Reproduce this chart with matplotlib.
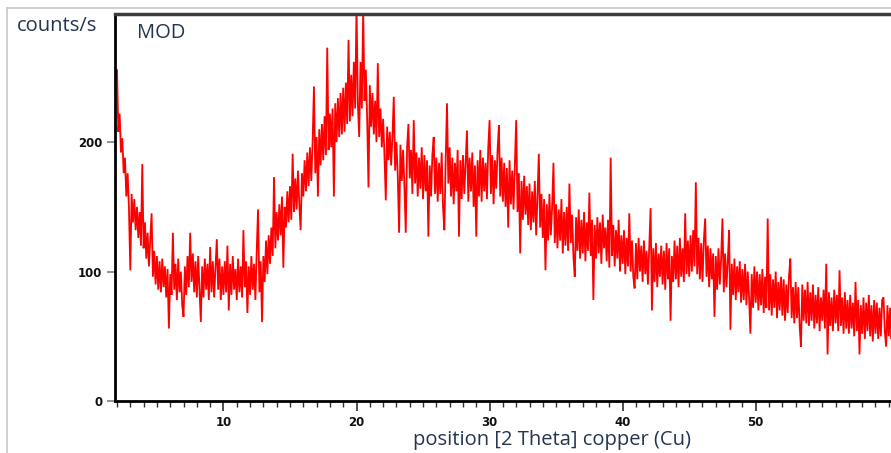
import numpy as np
import matplotlib
matplotlib.use("Agg")
import matplotlib.pyplot as plt
from matplotlib.lines import Line2D

# ---- data: counts/s at 0.1 deg steps, starting at 1.9 deg ----
start_2theta = 1.9
step_2theta = 0.1
c_02_05 = [250, 256, 208, 222, 192, 203, 176, 188, 158, 176, 148,
           101, 160, 138, 156, 132, 150, 126, 146, 120, 183,
           118, 138, 110, 130, 104, 124, 145, 96, 116, 90]
c_05_10 = [112, 86, 108, 84, 110, 88, 104, 80, 102, 56,
           98, 82, 130, 86, 106, 78, 110, 84, 100, 74,
           65, 104, 82, 112, 88, 130, 92, 114, 84, 108,
           80, 112, 86, 61, 104, 80, 110, 86, 106, 78,
           119, 84, 108, 80, 102, 125, 86, 110, 78, 104]
c_10_15 = [82, 108, 84, 120, 70, 106, 82, 112, 86, 102,
           78, 110, 84, 104, 80, 132, 88, 108, 68, 104,
           82, 112, 86, 106, 78, 116, 148, 84, 108, 61,
           112, 92, 124, 98, 128, 106, 134, 112, 173, 118,
           146, 124, 152, 128, 158, 103, 150, 134, 162, 138]
c_15_20 = [166, 140, 191, 146, 172, 148, 178, 152, 132, 176,
           158, 186, 162, 192, 166, 196, 170, 200, 243, 176,
           204, 158, 210, 182, 214, 186, 220, 190, 273, 194,
           222, 196, 226, 158, 230, 200, 234, 204, 238, 206,
           242, 208, 246, 214, 279, 216, 252, 220, 262, 226]
c_20_25 = [305, 230, 204, 262, 226, 302, 232, 256, 218, 165,
           244, 212, 238, 206, 232, 200, 261, 204, 226, 196,
           218, 190, 155, 212, 186, 208, 182, 204, 235, 178,
           200, 174, 130, 198, 170, 194, 166, 130, 196, 214,
           172, 194, 160, 217, 168, 192, 158, 188, 164, 196]
c_25_30 = [156, 190, 162, 186, 127, 182, 158, 190, 204, 160,
           188, 154, 184, 160, 192, 150, 132, 186, 230, 168,
           196, 158, 188, 152, 184, 162, 194, 127, 186, 156,
           190, 160, 184, 209, 154, 188, 162, 192, 150, 182,
           127, 186, 158, 194, 154, 188, 162, 184, 156, 196]
c_30_35 = [217, 160, 190, 152, 186, 164, 194, 213, 158, 188,
           154, 184, 150, 180, 134, 186, 152, 178, 148, 182,
           217, 146, 176, 114, 170, 140, 174, 144, 166, 136,
           168, 132, 162, 138, 170, 128, 158, 191, 134, 160,
           126, 156, 101, 152, 124, 160, 128, 150, 184, 122]
c_35_40 = [152, 118, 148, 124, 156, 114, 146, 120, 150, 116,
           168, 122, 144, 112, 96, 142, 116, 148, 110, 140,
           114, 146, 108, 138, 116, 161, 112, 140, 78, 136,
           110, 142, 114, 138, 106, 144, 118, 134, 108, 140,
           103, 188, 112, 136, 104, 132, 110, 140, 100, 128]
c_40_45 = [106, 132, 98, 126, 104, 145, 100, 124, 96, 87,
           122, 94, 126, 100, 120, 92, 124, 98, 116, 90,
           120, 149, 70, 118, 92, 122, 88, 114, 96, 120,
           90, 116, 86, 122, 94, 118, 62, 112, 92, 124,
           94, 120, 88, 126, 96, 118, 92, 145, 98, 124]
c_45_50 = [96, 128, 100, 132, 104, 169, 98, 126, 94, 122,
           92, 124, 141, 96, 120, 88, 118, 94, 114, 65,
           112, 86, 118, 90, 110, 141, 84, 114, 88, 108,
           132, 55, 106, 82, 110, 78, 104, 84, 108, 76,
           102, 78, 106, 74, 100, 80, 52, 98, 72, 104]
c_50_55 = [76, 100, 70, 98, 74, 102, 68, 96, 72, 141,
           70, 98, 66, 94, 72, 100, 64, 92, 70, 96,
           66, 94, 62, 90, 68, 96, 110, 64, 88, 60,
           92, 64, 88, 58, 42, 90, 62, 86, 60, 92,
           58, 84, 62, 90, 56, 82, 60, 88, 54, 80]
c_55_60 = [62, 86, 56, 106, 36, 84, 58, 80, 54, 86,
           60, 82, 54, 101, 58, 80, 52, 84, 56, 78,
           52, 82, 56, 76, 50, 92, 54, 78, 36, 74,
           52, 80, 48, 76, 54, 82, 50, 74, 46, 78,
           52, 76, 48, 72, 50, 78, 80, 54, 42, 74,
           50, 72, 48, 70, 52]

counts = np.array(c_02_05 + c_05_10 + c_10_15 + c_15_20 + c_20_25 + c_25_30 +
                  c_30_35 + c_35_40 + c_40_45 + c_45_50 + c_50_55 + c_55_60, float)
two_theta = start_2theta + step_2theta * np.arange(len(counts))

x_major = [10, 20, 30, 40, 50]
y_major = [0, 100, 200]

# ---- figure ----
W, H = 891, 453
fig = plt.figure(figsize=(W / 100, H / 100), dpi=100)
ax = fig.add_axes([115 / W, 1 - 401 / H, 1 - 115 / W + 0.002, (401 - 14) / H])

ax.plot(two_theta, counts, color="#ff0000", lw=1.3, solid_joinstyle="miter")
ax.set_xlim(1.85, 60.3)
ax.set_ylim(0, 299)

for s in ["left", "bottom"]:
    ax.spines[s].set_linewidth(2.0)
    ax.spines[s].set_color("black")
ax.spines["top"].set_linewidth(2.5)
ax.spines["top"].set_color("#3c3c3c")
ax.spines["right"].set_visible(False)

ax.set_xticks(x_major)
ax.set_xticks(np.arange(2, 61, 1), minor=True)
ax.set_yticks(y_major)
ax.tick_params(axis="x", which="major", length=7, width=1.2, color="#303030",
               direction="out", pad=4, labelsize=8.5)
ax.tick_params(axis="x", which="minor", length=4.5, width=1.0, color="#303030",
               direction="out")
ax.tick_params(axis="y", which="major", length=6, width=1.2, color="#808080",
               direction="out", pad=3, labelsize=8.5)
for lab in ax.get_xticklabels() + ax.get_yticklabels():
    lab.set_fontweight("bold")
    lab.set_family("DejaVu Sans")
    lab.set_color("#111111")

txt_color = "#233550"
fig.text(17 / W, 1 - 26 / H, "counts/s", fontsize=14.5, color=txt_color,
         family="Open Sans", ha="left", va="center")
fig.text(137 / W, 1 - 33 / H, "MOD", fontsize=14.5, color=txt_color,
         family="Open Sans", ha="left", va="center")
fig.text(552 / W, 1 - 440 / H, "position [2 Theta] copper (Cu)", fontsize=14.5,
         color=txt_color, family="Open Sans", ha="center", va="center")

# outer light-gray frame
fig.add_artist(Line2D([7 / W, 1.0], [1 - 8 / H, 1 - 8 / H], color="#c8c8c8", lw=1.2))
fig.add_artist(Line2D([7 / W, 7 / W], [0.0, 1 - 8 / H], color="#c8c8c8", lw=1.2))

fig.savefig("out.png", dpi=100)
